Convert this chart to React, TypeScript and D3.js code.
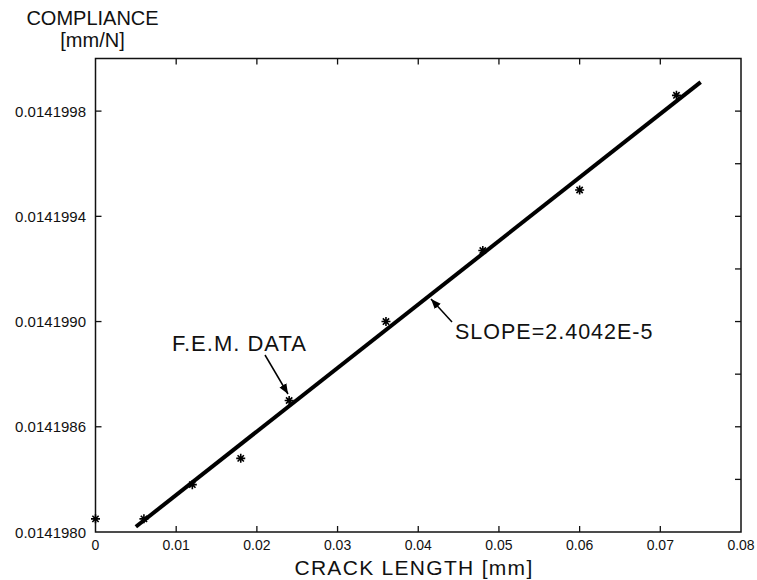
import React, { useEffect, useRef } from "react";
import * as d3 from "d3";

// crack length [mm] of the F.E.M. points
const crackLength = [0, 0.006, 0.012, 0.018, 0.024, 0.036, 0.048, 0.06, 0.072];
// compliance [mm/N]
const compliance = [
  0.01419825, 0.01419825, 0.01419838, 0.01419848, 0.0141987, 0.014199,
  0.01419927, 0.0141995, 0.01419986,
];
// fitted line end points
const fitX = [0.005, 0.075];
const fitY = [0.01419822, 0.01419991];

const xTicks = [0, 0.01, 0.02, 0.03, 0.04, 0.05, 0.06, 0.07, 0.08];
const yTicks = [0.0141982, 0.0141986, 0.014199, 0.0141994, 0.0141998];
const yTickLabels = ["0.0141980", "0.0141986", "0.0141990", "0.0141994", "0.0141998"];
const yRightTicks = [
  0.0141984, 0.0141986, 0.0141988, 0.014199, 0.0141992, 0.0141994, 0.0141996, 0.0141998,
];

const W = 757;
const H = 580;
const FONT = "'Liberation Sans', Arial, Helvetica, sans-serif";

const App = () => {
  const ref = useRef<SVGSVGElement>(null);

  useEffect(() => {
    const svg = d3.select(ref.current);
    svg.selectAll("*").remove();

    const x = d3.scaleLinear().domain([0, 0.08]).range([95.5, 741]);
    const y = d3.scaleLinear().domain([0.0141982, 0.0142]).range([532, 58.5]);

    const defs = svg.append("defs");
    defs
      .append("marker")
      .attr("id", "arr")
      .attr("viewBox", "0 0 10 10")
      .attr("refX", 10)
      .attr("refY", 5)
      .attr("markerWidth", 10)
      .attr("markerHeight", 10)
      .attr("markerUnits", "userSpaceOnUse")
      .attr("orient", "auto")
      .append("path")
      .attr("d", "M0,1 L10,5 L0,9 Z")
      .attr("fill", "#000");

    // frame
    svg
      .append("rect")
      .attr("x", x(0))
      .attr("y", y(0.0142))
      .attr("width", x(0.08) - x(0))
      .attr("height", y(0.0141982) - y(0.0142))
      .attr("fill", "none")
      .attr("stroke", "#111")
      .attr("stroke-width", 1.5);

    const tick = 6;
    // bottom + top ticks
    xTicks.slice(1, -1).forEach((v) => {
      svg.append("line").attr("x1", x(v)).attr("x2", x(v)).attr("y1", 532).attr("y2", 532 - tick)
        .attr("stroke", "#111").attr("stroke-width", 1.3);
      svg.append("line").attr("x1", x(v)).attr("x2", x(v)).attr("y1", 58.5).attr("y2", 58.5 + tick)
        .attr("stroke", "#111").attr("stroke-width", 1.3);
    });
    svg
      .append("g")
      .selectAll("text")
      .data(xTicks)
      .join("text")
      .attr("x", (d) => x(d))
      .attr("y", 550)
      .attr("text-anchor", "middle")
      .attr("font-size", 14)
      .text((d) => (d === 0 ? "0" : d3.format(".2f")(d)));

    // left ticks
    yTicks.slice(1).forEach((v) => {
      svg.append("line").attr("x1", x(0)).attr("x2", x(0) + tick).attr("y1", y(v)).attr("y2", y(v))
        .attr("stroke", "#111").attr("stroke-width", 1.3);
    });
    yRightTicks.forEach((v) => {
      svg.append("line").attr("x1", x(0.08)).attr("x2", x(0.08) - tick).attr("y1", y(v)).attr("y2", y(v))
        .attr("stroke", "#111").attr("stroke-width", 1.3);
    });
    svg
      .append("g")
      .selectAll("text")
      .data(yTicks)
      .join("text")
      .attr("x", 86)
      .attr("y", (d) => y(d) + 5.5)
      .attr("text-anchor", "end")
      .attr("font-size", 15)
      .text((d, i) => yTickLabels[i]);

    // fitted line
    svg
      .append("path")
      .attr("d", d3.line<number>()((fitX.map((v, i) => [x(v), y(fitY[i])]) as any)))
      .attr("stroke", "#000")
      .attr("stroke-width", 4)
      .attr("fill", "none");

    // asterisks
    const r = 4.5;
    const star = `M${-r},0H${r}M0,${-r}V${r}M${-r * 0.7},${-r * 0.7}L${r * 0.7},${r * 0.7}M${-r * 0.7},${r * 0.7}L${r * 0.7},${-r * 0.7}`;
    svg
      .append("g")
      .selectAll("path")
      .data(crackLength)
      .join("path")
      .attr("transform", (d, i) => `translate(${x(d)},${y(compliance[i])})`)
      .attr("d", star)
      .attr("stroke", "#000")
      .attr("stroke-width", 1.6)
      .attr("fill", "none");

    // annotations
    svg.append("text").attr("x", 172).attr("y", 351).attr("font-size", 22)
      .attr("letter-spacing", 1).text("F.E.M. DATA");
    svg.append("line").attr("x1", 265).attr("y1", 355).attr("x2", 288).attr("y2", 394)
      .attr("stroke", "#000").attr("stroke-width", 1.5).attr("marker-end", "url(#arr)");

    svg.append("text").attr("x", 455).attr("y", 339).attr("font-size", 21.5)
      .attr("letter-spacing", 1).text("SLOPE=2.4042E-5");
    svg.append("line").attr("x1", 452).attr("y1", 322).attr("x2", 431).attr("y2", 299)
      .attr("stroke", "#000").attr("stroke-width", 1.5).attr("marker-end", "url(#arr)");

    // axis titles
    svg.append("text").attr("x", 92.5).attr("y", 25).attr("text-anchor", "middle").attr("font-size", 20).text("COMPLIANCE");
    svg.append("text").attr("x", 92.5).attr("y", 47).attr("text-anchor", "middle").attr("font-size", 20).text("[mm/N]");
    svg.append("text").attr("x", 414).attr("y", 575).attr("text-anchor", "middle").attr("font-size", 21)
      .attr("letter-spacing", 1.3).text("CRACK LENGTH [mm]");
  }, []);

  return (
    <svg
      ref={ref}
      width={W}
      height={H}
      style={{ position: "absolute", left: 0, top: 0, background: "#fff", fontFamily: FONT }}
      fill="#111"
    />
  );
};

export default App;
